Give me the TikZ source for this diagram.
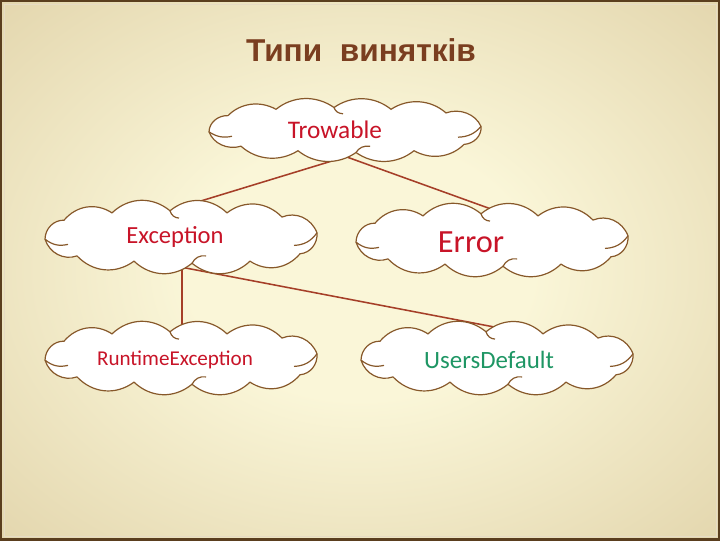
\documentclass[tikz,border=0pt]{standalone}
\usepackage{fontspec}
\setmainfont{Carlito}
\newfontfamily\titlefont{Liberation Sans}
\definecolor{bgcream}{RGB}{250,246,216}
\definecolor{bgtan}{RGB}{192,165,108}
\definecolor{framebrown}{RGB}{90,62,30}
\definecolor{cloudbrown}{RGB}{135,88,42}
\definecolor{linkred}{RGB}{165,62,40}
\definecolor{labelred}{RGB}{200,20,40}
\definecolor{labelgreen}{RGB}{30,150,100}
\definecolor{titlebrown}{RGB}{122,62,32}
\pgfdeclareradialshading{slidebg}{\pgfpoint{0bp}{0bp}}{color(0bp)=(bgcream); color(12bp)=(bgcream); color(72bp)=(bgtan)}
% cloud outline round a named node, #2 = vertical scale
\newcommand\cloudat[2]{%
\begin{scope}[shift={(#1.center)}, yscale=#2]
\draw[cloudline, fill=white] (-137,2) to[bend left=45] (-118,-16) to[bend left=40] (-70,-23)
  to[bend left=40] (-12,-25) to[bend left=40] (45,-23) to[bend left=40] (100,-19)
  to[bend left=45] (135,-4) to[bend left=45] (118,16) to[bend left=40] (68,23)
  to[bend left=40] (10,25) to[bend left=40] (-48,23) to[bend left=40] (-105,18)
  to[bend left=45] cycle;
\draw[cloudline] (-137,2) to[bend right=25] (-114,7);
\draw[cloudline] (135,-4) to[bend left=25] (112,8);
\draw[cloudline] (-12,-25) to[bend right=35] (-3,-18);
\draw[cloudline] (10,25) to[bend left=35] (24,18);
\end{scope}}

\begin{document}
\begin{tikzpicture}[x=0.025cm, y=-0.025cm]
\tikzstyle{cloudbox} = [rectangle, minimum width=6.6cm, minimum height=1.5cm, inner sep=0pt]
\tikzstyle{cloudline} = [draw=cloudbrown, line width=0.85pt]
\tikzstyle{lbl} = [text=labelred, font=\fontsize{17.5}{20}\selectfont, inner sep=1pt]
\tikzstyle{link} = [draw=linkred, line width=1.1pt]
\useasboundingbox (0,0) rectangle (720,540);
\shade[shading=slidebg] (0,0) rectangle (720,540);
\draw[framebrown, line width=2.8pt] (0,0) rectangle (720,540);
\draw[white!60!bgtan, line width=0.6pt] (4,4) rectangle (716,536);
\node[text=titlebrown, font=\titlefont\bfseries\fontsize{22.5}{26}\selectfont] (title) at (361,50) {Типи\ \ винятків};
% cloud places
\node[cloudbox, minimum height=1.32cm] (trow) at (346,130) {};
\node[cloudbox] (exc) at (182,237) {};
\node[cloudbox] (err) at (493,240) {};
\node[cloudbox] (rte) at (182,358) {};
\node[cloudbox] (usr) at (498,358) {};
\foreach \from/\to in {trow/exc, trow/err, exc/rte, exc/usr}
\draw[link] (\from.south) -- (\to.north);
\cloudat{trow}{0.9}
\cloudat{exc}{1.05}
\cloudat{err}{1.05}
\cloudat{rte}{1.05}
\cloudat{usr}{1.05}
% texts
\node[lbl, font=\fontsize{18}{20}\selectfont] (trowtxt) at (335,130) {Trowable};
\node[lbl] (exctxt) at (175,237) {Exception};
\node[lbl, font=\fontsize{23}{26}\selectfont] (errtxt) at (471,242) {Error};
\node[lbl, font=\fontsize{15}{17}\selectfont] (rtetxt) at (175,360) {RuntimeException};
\node[lbl, text=labelgreen, font=\fontsize{17.7}{20}\selectfont] (usrtxt) at (489,360) {UsersDefault};
\end{tikzpicture}
\end{document}
